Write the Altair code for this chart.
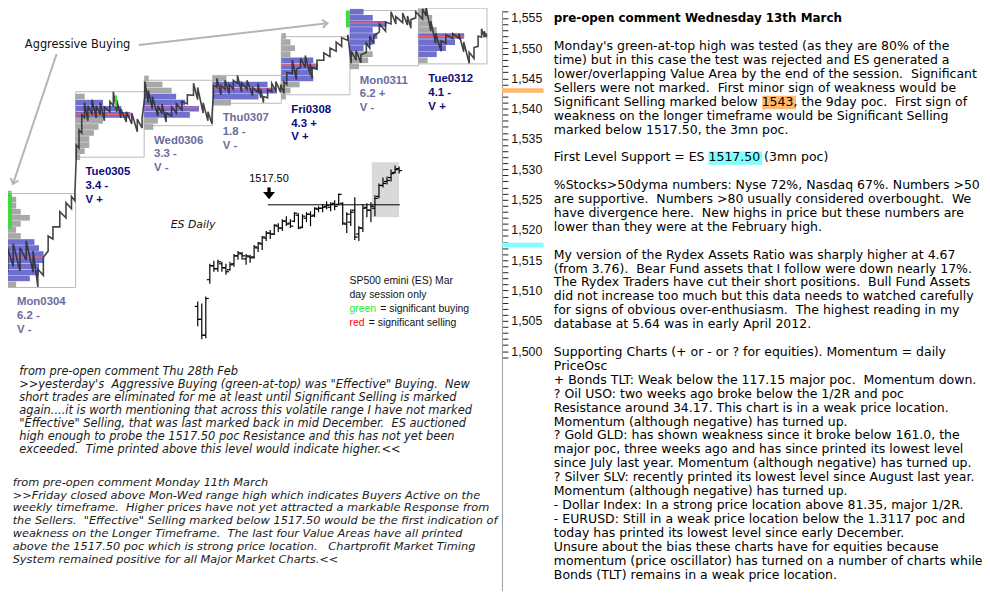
import altair as alt
import pandas as pd

# ---------------- market-profile sessions (price scale = right axis) ----------------
day_names  = ["Mon0304", "Tue0305", "Wed0306", "Thu0307", "Fri0308", "Mon0311", "Tue0312"]
day_scores = ["6.2 -", "3.4 -", "3.3 -", "1.8 -", "4.3 +", "6.2 +", "4.1 -"]
day_vflag  = ["V -", "V +", "V -", "V -", "V +", "V -", "V +"]
day_emph   = ["gray", "navy", "gray", "gray", "navy", "gray", "navy"]
day_low    = [1510.5, 1532.0, 1537.2, 1540.9, 1542.3, 1547.1, 1547.4]
day_high   = [1526.0, 1542.8, 1544.7, 1545.5, 1551.9, 1556.2, 1556.6]
poc_price  = [1515.5, 1539.1, 1540.2, 1543.2, 1547.2, 1554.1, 1551.9]
poc_tpo    = [8, 12, 12, 14, 8, 8, 10]
va_low     = [1512, 1539, 1539, 1542, 1545, 1550, 1549]
va_high    = [1518, 1541, 1542, 1544, 1548, 1556, 1552]
profile_top = [1526, 1542, 1545, 1545, 1552, 1556, 1556]
profile_tpo = [
    [1, 2, 2, 3, 5, 3, 2, 3, 6, 7, 8, 8, 7, 7, 5, 2],
    [2, 6, 10, 12, 6, 5, 4, 3, 3, 2, 1],
    [1, 4, 6, 7, 9, 12, 10, 3, 2],
    [3, 12, 14, 10, 4],
    [1, 2, 3, 2, 7, 8, 6, 7, 4, 2, 1],
    [3, 5, 8, 5, 6, 5, 3, 5, 4, 2],
    [2, 3, 3, 4, 10, 8, 6, 4, 2],
]
intra_t = [
    [0.01, 0.09, 0.19, 0.28, 0.38, 0.45, 0.53, 0.60, 0.67, 0.77, 0.86, 0.94, 0.99],
    [0.01, 0.05, 0.09, 0.13, 0.18, 0.24, 0.30, 0.36, 0.42, 0.50, 0.55, 0.60, 0.66, 0.74, 0.82, 0.90, 0.97],
    [0.01, 0.06, 0.12, 0.20, 0.26, 0.32, 0.40, 0.47, 0.55, 0.63, 0.72, 0.78, 0.86, 0.93, 0.99],
    [0.01, 0.06, 0.12, 0.18, 0.24, 0.30, 0.36, 0.42, 0.50, 0.58, 0.66, 0.70, 0.74, 0.80, 0.86, 0.92, 0.99],
    [0.04, 0.08, 0.16, 0.22, 0.28, 0.35, 0.42, 0.45, 0.52, 0.62, 0.71, 0.80, 0.88, 0.97],
    [0.02, 0.09, 0.16, 0.24, 0.29, 0.35, 0.43, 0.52, 0.60, 0.67, 0.77, 0.84, 0.89, 0.96],
    [0.06, 0.11, 0.18, 0.25, 0.33, 0.40, 0.50, 0.59, 0.66, 0.74, 0.81, 0.87, 0.92, 0.96, 0.99],
]
intra_lo = [
    [1513, 1514, 1513.2, 1515, 1513, 1510.6, 1512.5, 1516.5, 1518.5, 1520.5, 1522, 1523.5, 1524.8],
    [1532.2, 1533.5, 1536, 1538.5, 1538, 1539, 1538.5, 1539, 1538, 1539.5, 1540.5, 1539.5, 1538.5, 1537.8, 1537.5, 1536.2, 1536.8],
    [1542, 1541, 1540, 1538.8, 1539.2, 1537.8, 1538.8, 1539.3, 1539.8, 1540.8, 1542.2, 1541.5, 1539.3, 1538, 1537.5],
    [1542.3, 1543.5, 1542.3, 1543.2, 1542.5, 1543.2, 1544.2, 1542.8, 1543.2, 1542.2, 1542.7, 1541.8, 1541, 1541.8, 1542.8, 1543, 1542.7],
    [1542.5, 1544, 1545.8, 1544.8, 1546.8, 1546.8, 1545.5, 1545, 1546.5, 1548, 1548.6, 1549.5, 1550.3, 1551.3],
    [1547.5, 1548, 1547.6, 1549.3, 1550, 1550.7, 1552.7, 1552.8, 1554, 1554, 1554.2, 1553.8, 1553.3, 1555],
    [1554.8, 1555.3, 1552.8, 1550.8, 1549.5, 1550.8, 1551.6, 1551.6, 1549.4, 1547.5, 1548.3, 1550.3, 1551.8, 1551.8, 1551.8],
]
intra_hi = [
    [1517, 1517.7, 1517.1, 1518.2, 1516.5, 1513.5, 1515.5, 1519, 1520.5, 1523, 1524.5, 1525.5, 1526],
    [1534, 1536.5, 1539, 1541, 1540.5, 1541.5, 1540.5, 1541, 1540.3, 1541.2, 1542.8, 1541.5, 1540, 1539.5, 1539.3, 1538.3, 1538.5],
    [1544.5, 1543, 1542, 1540.5, 1540.8, 1539.3, 1540.3, 1540.8, 1541.2, 1542.3, 1544.2, 1543.5, 1541, 1539.5, 1539],
    [1543.8, 1545, 1543.8, 1544.7, 1544, 1544.7, 1545.5, 1544.3, 1544.7, 1543.5, 1544.2, 1543.2, 1542, 1543.2, 1544.2, 1544.5, 1544],
    [1544.5, 1546, 1548, 1546.5, 1548.3, 1548.8, 1547.5, 1546.8, 1548, 1549.2, 1550, 1551, 1551.7, 1552.2],
    [1549.5, 1549.6, 1548.9, 1550.8, 1552, 1552, 1554, 1554.3, 1556, 1555.2, 1555.8, 1555.3, 1554.7, 1556],
    [1556.5, 1556.8, 1554.5, 1552.5, 1551.2, 1552.2, 1552.4, 1552.4, 1551, 1549.3, 1550.1, 1552, 1553.2, 1552.8, 1552.4],
]
# significant buying marks (green)
green_day = [0, 5, 1]
green_t0  = [0.015, -0.058, 0.574]
green_t1  = [0.072, 0.0, 0.603]
green_lo  = [1520.2, 1553.4, 1540.3]
green_hi  = [1526.0, 1556.2, 1542.2]
# axis reference levels
level_9day_poc = 1543.0
level_3mn_poc = 1517.5
axis_ticks = list(range(1499, 1557))

# ---------------- ES daily inset ----------------
d_high = [1420, 1418, 1425,
          1458, 1461, 1462, 1460, 1458, 1460, 1468, 1471, 1470, 1468, 1467, 1477, 1480, 1486, 1491, 1492, 1498, 1499, 1503, 1506, 1503,
          1510, 1509, 1508, 1510, 1511, 1515, 1516, 1518, 1521, 1520, 1522, 1529, 1520, 1510, 1513, 1525, 1496, 1518, 1519,
          1520, 1527, 1539, 1545, 1546, 1553, 1557, 1556]
d_low = [1395, 1382, 1383,
         1438, 1450, 1450, 1450, 1447, 1451, 1455, 1462, 1462, 1457, 1459, 1463, 1470, 1472, 1481, 1483, 1487, 1490, 1491, 1496, 1494,
         1500, 1493, 1494, 1500, 1496, 1505, 1510, 1510, 1513, 1511, 1512, 1517, 1497, 1489, 1496, 1482, 1481, 1490, 1505,
         1500, 1506, 1524, 1535, 1538, 1541, 1549, 1549]
d_open = [1415, 1402, 1386,
          1442, 1456, 1453, 1458, 1454, 1452, 1458, 1466, 1468, 1463, 1465, 1465, 1474, 1478, 1484, 1489, 1488, 1496, 1494, 1501, 1499,
          1501, 1507, 1495, 1504, 1508, 1507, 1513, 1514, 1516, 1515, 1519, 1518, 1519, 1498, 1500, 1512, 1488, 1494, 1515,
          1512, 1514, 1526, 1537, 1541, 1545, 1550, 1554]
d_close = [1402, 1386, 1423,
           1456, 1453, 1460, 1454, 1450, 1457, 1466, 1469, 1466, 1466, 1464, 1475, 1479, 1485, 1489, 1488, 1497, 1494, 1501, 1498, 1496,
           1509, 1494, 1506, 1508, 1506, 1514, 1514, 1515, 1517, 1518, 1516, 1528, 1499, 1508, 1510, 1485, 1494, 1514, 1512,
           1516, 1524, 1537, 1539, 1542, 1549, 1553, 1552]
week_start, week_end, week_low, week_high = 43.2, 50.0, 1505.0, 1560.5
poc3_from, poc3_to = 17.4, 50.2
arrow_idx = 17.7

# ---------------- texts ----------------
title = "pre-open comment Wednesday 13th March"
right_lines = [
    "",
    "Monday's green-at-top high was tested (as they are 80% of the",
    "time) but in this case the test was rejected and ES generated a",
    "lower/overlapping Value Area by the end of the session.  Significant",
    "Sellers were not marked.  First minor sign of weakness would be",
    "Significant Selling marked below 1543, the 9day poc.  First sign of",
    "weakness on the longer timeframe would be Significant Selling",
    "marked below 1517.50, the 3mn poc.",
    "",
    "First Level Support = ES 1517.50 (3mn poc)",
    "",
    "%Stocks>50dyma numbers: Nyse 72%, Nasdaq 67%. Numbers >50",
    "are supportive.  Numbers >80 usually considered overbought.  We",
    "have divergence here.  New highs in price but these numbers are",
    "lower than they were at the February high.",
    "",
    "My version of the Rydex Assets Ratio was sharply higher at 4.67",
    "(from 3.76).  Bear Fund assets that I follow were down nearly 17%.",
    "The Rydex Traders have cut their short positions.  Bull Fund Assets",
    "did not increase too much but this data needs to watched carefully",
    "for signs of obvious over-enthusiasm.  The highest reading in my",
    "database at 5.64 was in early April 2012.",
    "",
    "Supporting Charts (+ or - or ? for equities). Momentum = daily",
    "PriceOsc",
    "+ Bonds TLT: Weak below the 117.15 major poc.  Momentum down.",
    "? Oil USO: two weeks ago broke below the 1/2R and poc",
    "Resistance around 34.17. This chart is in a weak price location.",
    "Momentum (although negative) has turned up.",
    "? Gold GLD: has shown weakness since it broke below 161.0, the",
    "major poc, three weeks ago and has since printed its lowest level",
    "since July last year. Momentum (although negative) has turned up.",
    "? Silver SLV: recently printed its lowest level since August last year.",
    "Momentum (although negative) has turned up.",
    "- Dollar Index: In a strong price location above 81.35, major 1/2R.",
    "- EURUSD: Still in a weak price location below the 1.3117 poc and",
    "today has printed its lowest level since early December.",
    "Unsure about the bias these charts have for equities because",
    "momentum (price oscillator) has turned on a number of charts while",
    "Bonds (TLT) remains in a weak price location.",
]
block1 = [
    "from pre-open comment Thu 28th Feb",
    ">>yesterday's  Aggressive Buying (green-at-top) was \"Effective\" Buying.  New",
    "short trades are eliminated for me at least until Significant Selling is marked",
    "again....it is worth mentioning that across this volatile range I have not marked",
    "\"Effective\" Selling, that was last marked back in mid December.  ES auctioned",
    "high enough to probe the 1517.50 poc Resistance and this has not yet been",
    "exceeded.  Time printed above this level would indicate higher.<<",
]
block2 = [
    "from pre-open comment Monday 11th March",
    ">>Friday closed above Mon-Wed range high which indicates Buyers Active on the",
    "weekly timeframe.  Higher prices have not yet attracted a markable Response from",
    "the Sellers.  \"Effective\" Selling marked below 1517.50 would be the first indication of",
    "weakness on the Longer Timeframe.  The last four Value Areas have all printed",
    "above the 1517.50 poc which is strong price location.   Chartprofit Market Timing",
    "System remained positive for all Major Market Charts.<<",
]


def nb(s):
    while "  " in s:
        s = s.replace("  ", "\u00a0 ")
    return s


# ---------------- build tables ----------------
prof_rows = []
for d in range(7):
    for i, c in enumerate(profile_tpo[d]):
        lvl = profile_top[d] - i
        prof_rows.append(dict(day=d, level=lvl, tpo=c,
                              zone="va" if va_low[d] <= lvl <= va_high[d] else "out"))
prof = pd.DataFrame(prof_rows)

days = pd.DataFrame(dict(day=list(range(7)), low=day_low, high=day_high, name=day_names,
                         score=day_scores, vflag=day_vflag, emph=day_emph,
                         poc=poc_price, poc_tpo=poc_tpo))

intra_rows = []
for d in range(7):
    for t, lo, hi in zip(intra_t[d], intra_lo[d], intra_hi[d]):
        intra_rows.append(dict(x=d + t, lo=lo, hi=hi))
intra = pd.DataFrame(intra_rows)

green = pd.DataFrame(dict(day=green_day, t0=green_t0, t1=green_t1, lo=green_lo, hi=green_hi))
daily = pd.DataFrame(dict(i=list(range(len(d_high))), o=d_open, h=d_high, l=d_low, c=d_close))
one = pd.DataFrame({"a": [0]})

XM = alt.Scale(domain=[0.01446, 14.218], nice=False, zero=False)
YM = alt.Scale(domain=[1460.47, 1556.23], nice=False, zero=False)
XD = alt.Scale(domain=[-47.12, 194.75], nice=False, zero=False)
YD = alt.Scale(domain=[1128.5, 1713.5], nice=False, zero=False)

layers = []

# --- daily inset ---
layers.append(alt.Chart(pd.DataFrame(dict(x0=[week_start], x1=[week_end], y0=[week_low], y1=[week_high])))
              .mark_rect(color="#d9d9d9")
              .encode(x=alt.X("x0:Q", scale=XD, axis=None), x2="x1:Q",
                      y=alt.Y("y0:Q", scale=YD, axis=None), y2="y1:Q"))
layers.append(alt.Chart(pd.DataFrame(dict(x0=[poc3_from], x1=[poc3_to], p=[level_3mn_poc])))
              .mark_rule(color="black", strokeWidth=1)
              .encode(x=alt.X("x0:Q", scale=XD, axis=None), x2="x1:Q",
                      y=alt.Y("p:Q", scale=YD, axis=None)))
layers.append(alt.Chart(daily).mark_rule(color="black", strokeWidth=1.2)
              .encode(x=alt.X("i:Q", scale=XD, axis=None),
                      y=alt.Y("l:Q", scale=YD, axis=None), y2="h:Q"))
layers.append(alt.Chart(daily).transform_calculate(xl="datum.i - 0.75")
              .mark_rule(color="black", strokeWidth=1.2)
              .encode(x=alt.X("xl:Q", scale=XD, axis=None), x2="i:Q",
                      y=alt.Y("o:Q", scale=YD, axis=None)))
layers.append(alt.Chart(daily).transform_calculate(xr="datum.i + 0.75")
              .mark_rule(color="black", strokeWidth=1.2)
              .encode(x=alt.X("i:Q", scale=XD, axis=None), x2="xr:Q",
                      y=alt.Y("c:Q", scale=YD, axis=None)))
arrow = pd.DataFrame(dict(x=[arrow_idx], s0=[1535.0], s1=[1529.5], head=[1526.8], lab=[1543.5],
                          txt=["1517.50"]))
layers.append(alt.Chart(arrow).mark_rule(color="black", strokeWidth=3.3)
              .encode(x=alt.X("x:Q", scale=XD, axis=None),
                      y=alt.Y("s0:Q", scale=YD, axis=None), y2="s1:Q"))
layers.append(alt.Chart(arrow).mark_point(shape="M-1,-0.6L1,-0.6L0,0.6Z", filled=True, size=144,
                                          color="black", opacity=1)
              .encode(x=alt.X("x:Q", scale=XD, axis=None), y=alt.Y("head:Q", scale=YD, axis=None)))
layers.append(alt.Chart(arrow).mark_text(font="Liberation Sans", fontSize=11, color="black",
                                         align="center", baseline="middle")
              .encode(x=alt.X("x:Q", scale=XD, axis=None), y=alt.Y("lab:Q", scale=YD, axis=None),
                      text="txt:N"))

# --- market profile panels ---
layers.append(alt.Chart(days).transform_calculate(dend="datum.day + 1")
              .mark_rect(filled=False, stroke="#b9b9b9", strokeWidth=1)
              .encode(x=alt.X("day:Q", scale=XM, axis=None), x2="dend:Q",
                      y=alt.Y("low:Q", scale=YM,
                              axis=alt.Axis(orient="right", offset=-484, values=axis_ticks,
                                            labelExpr="datum.value % 5 == 0 ? format(datum.value, ',') : ''",
                                            tickSize=6, tickColor="#222222", tickWidth=1,
                                            domainColor="#9a9a9a", domainWidth=1,
                                            labelFont="Liberation Sans", labelFontSize=12.5,
                                            labelColor="#111111", labelPadding=3, grid=False,
                                            title=None, labelOverlap=False, labelFlush=False,
                                            labelBound=False)),
                      y2="high:Q"))
layers.append(alt.Chart(days).mark_rule(color="#b9b9b9", strokeWidth=1)
              .transform_filter("datum.day == 0").transform_calculate(base="1500.2")
              .encode(x=alt.X("day:Q", scale=XM, axis=None),
                      y=alt.Y("base:Q", scale=YM, axis=None), y2="high:Q"))
layers.append(alt.Chart(prof)
              .transform_calculate(x2="datum.day + datum.tpo / 15",
                                   ylo="datum.level - 0.47", yhi="datum.level + 0.47")
              .mark_rect()
              .encode(x=alt.X("day:Q", scale=XM, axis=None), x2="x2:Q",
                      y=alt.Y("ylo:Q", scale=YM, axis=None), y2="yhi:Q",
                      color=alt.Color("zone:N", scale=alt.Scale(domain=["out", "va"],
                                                                range=["#a8a8a8", "#6f6fd0"]),
                                      legend=None)))
layers.append(alt.Chart(days).transform_calculate(pend="datum.day + datum.poc_tpo / 15")
              .mark_rule(color="#ff5a5a", strokeWidth=1.5)
              .encode(x=alt.X("day:Q", scale=XM, axis=None), x2="pend:Q",
                      y=alt.Y("poc:Q", scale=YM, axis=None)))
layers.append(alt.Chart(intra).transform_fold(["lo", "hi"], as_=["k", "p"])
              .transform_calculate(seq="datum.x * 2 + (datum.k == 'hi' ? 0.0001 : 0)")
              .mark_line(color="#303030", strokeWidth=1.6, opacity=0.9)
              .encode(x=alt.X("x:Q", scale=XM, axis=None),
                      y=alt.Y("p:Q", scale=YM, axis=None), order="seq:Q"))
layers.append(alt.Chart(green).transform_calculate(a="datum.day + datum.t0", b="datum.day + datum.t1")
              .mark_rect(color="#3ddc3d")
              .encode(x=alt.X("a:Q", scale=XM, axis=None), x2="b:Q",
                      y=alt.Y("lo:Q", scale=YM, axis=None), y2="hi:Q"))
label_color = alt.Color("emph:N", scale=alt.Scale(domain=["navy", "gray"], range=["#0c0c7c", "#6c6c9c"]),
                        legend=None)
for fld, dy in [("name", 15), ("score", 29), ("vflag", 43)]:
    layers.append(alt.Chart(days).mark_text(font="Liberation Sans", fontWeight="bold", fontSize=11.5,
                                            align="left", baseline="middle", dx=10, dy=dy)
                  .encode(x=alt.X("day:Q", scale=XM, axis=None),
                          y=alt.Y("low:Q", scale=YM, axis=None),
                          text=f"{fld}:N", color=label_color))

# axis level markers
marks = pd.DataFrame(dict(p=[level_9day_poc, level_3mn_poc], kind=["9day", "3mn"]))
layers.append(alt.Chart(marks).transform_calculate(a="datum.p - 0.38", b="datum.p + 0.38")
              .mark_rect()
              .encode(x=alt.value(498), x2=alt.value(540),
                      y=alt.Y("a:Q", scale=YM, axis=None), y2="b:Q",
                      color=alt.Color("kind:N", scale=alt.Scale(domain=["9day", "3mn"],
                                                                range=["#ffb86c", "#80ffff"]),
                                      legend=None)))

# --- annotations ---
def txt(x, y, text, **kw):
    return alt.Chart(one).mark_text(align="left", baseline="alphabetic", **kw).encode(
        x=alt.value(x), y=alt.value(y), text=alt.value(text))


layers.append(alt.Chart(one).mark_rule(color="#b4b4b4", strokeWidth=2)
              .encode(x=alt.value(49), y=alt.value(44), x2=alt.value(5), y2=alt.value(175)))
layers.append(alt.Chart(one).mark_rule(color="#b4b4b4", strokeWidth=2)
              .encode(x=alt.value(132), y=alt.value(35), x2=alt.value(322), y2=alt.value(13)))
layers.append(alt.Chart(one).mark_point(shape="M-1,-0.8L0,0L-1,0.8", filled=False, size=100,
                                        color="#b4b4b4", strokeWidth=2, angle=108.6, opacity=1)
              .encode(x=alt.value(5), y=alt.value(175)))
layers.append(alt.Chart(one).mark_point(shape="M-1,-0.8L0,0L-1,0.8", filled=False, size=100,
                                        color="#b4b4b4", strokeWidth=2, angle=353.4, opacity=1)
              .encode(x=alt.value(322), y=alt.value(13)))
layers.append(txt(17, 38, "Aggressive Buying", font="DejaVu Sans", fontSize=11.5, color="#111111"))
layers.append(txt(164, 219, "ES Daily", font="DejaVu Sans", fontSize=11, fontStyle="italic",
                  color="#111111"))
layers.append(txt(344.3, 276, ["SP500 emini (ES) Mar", "day session only"], font="Liberation Sans",
                  fontSize=10.5, color="#111111", lineHeight=14.2))
layers.append(txt(344.3, 304.3, "green", font="Liberation Sans", fontSize=10.5, color="#22ee22"))
layers.append(txt(375.3, 304.3, "= significant buying", font="Liberation Sans", fontSize=10.5,
                  color="#111111"))
layers.append(txt(344.3, 318.3, "red", font="Liberation Sans", fontSize=10.5, color="#ff0000"))
layers.append(txt(363.7, 318.3, "= significant selling", font="Liberation Sans", fontSize=10.5,
                  color="#111111"))

# right-hand commentary: one text block per paragraph
FS = 12.6
LH = 14.02
X0 = 550.3
Y0 = 12.0  # baseline of the title line
layers.append(alt.Chart(one).mark_rect(color="#ffb86c")
              .encode(x=alt.value(X0 + 16.75 * FS - 1), x2=alt.value(X0 + 19.3 * FS + 1),
                      y=alt.value(Y0 + 6 * LH - 10), y2=alt.value(Y0 + 6 * LH + 3.5)))
layers.append(alt.Chart(one).mark_rect(color="#80ffff")
              .encode(x=alt.value(X0 + 12.45 * FS - 1), x2=alt.value(X0 + 16.6 * FS + 1),
                      y=alt.value(Y0 + 10 * LH - 10), y2=alt.value(Y0 + 10 * LH + 3.5)))
layers.append(txt(X0, Y0, title, font="DejaVu Sans", fontWeight="bold", fontSize=12.0,
                  color="#000000"))
para, start = [], None
for idx, line in enumerate(right_lines + [""], start=1):
    if line == "":
        if para:
            layers.append(txt(X0, Y0 + start * LH, [nb(s) for s in para], font="DejaVu Sans",
                              fontSize=FS, color="#000000", lineHeight=LH))
        para, start = [], None
    else:
        if start is None:
            start = idx
        para.append(line)

layers.append(txt(11.3, 367.7, [nb(s) for s in block1], font="DejaVu Sans", fontSize=11.5,
                  fontStyle="italic", color="#1a1a1a", lineHeight=13.1))
layers.append(txt(4.7, 479.3, [nb(s) for s in block2], font="DejaVu Sans", fontSize=11.45,
                  fontStyle="italic", color="#1a1a1a", lineHeight=12.95))

chart = (alt.layer(*layers)
         .resolve_scale(x="independent", y="independent", color="independent")
         .properties(width=982, height=585, padding=0,
                     autosize=alt.AutoSizeParams(type="none"), background="white")
         .configure_view(strokeWidth=0))

chart.save("out.html", embed_options={"renderer": "svg", "actions": False})
